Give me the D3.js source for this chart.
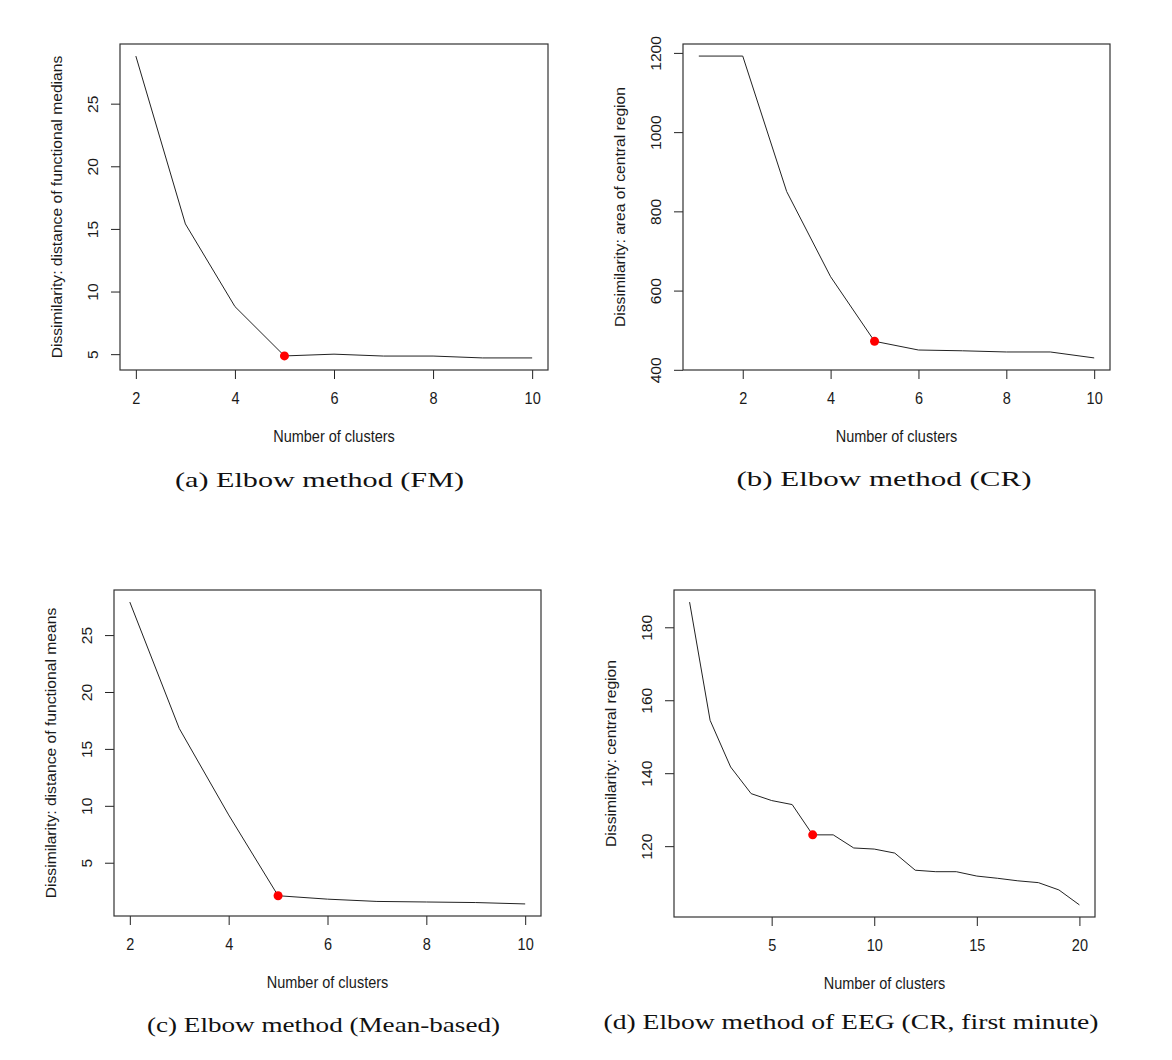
<!DOCTYPE html>
<html>
<head>
<meta charset="utf-8">
<script src="https://cdn.jsdelivr.net/npm/d3@7"></script>
<style>
  body { margin: 0; background: #fff; }
  .tick-label, .axis-title { font-family: "Liberation Sans", Arial, sans-serif; font-size: 14.5px; fill: #1a1a1a; }
  .caption { font-family: "Liberation Serif", "DejaVu Serif", serif; font-size: 22px; fill: #111; }
</style>
</head>
<body>
<svg width="1172" height="1060"></svg>
<script>
// values
const clustersA = [2, 3, 4, 5, 6, 7, 8, 9, 10];
const dissimA = [28.8, 15.4, 8.8, 4.86, 5.0, 4.85, 4.85, 4.7, 4.7];
const clustersB = [1, 2, 3, 4, 5, 6, 7, 8, 9, 10];
const dissimB = [1192, 1192, 850, 635, 472, 450, 448, 445, 445, 430];
const clustersC = [2, 3, 4, 5, 6, 7, 8, 9, 10];
const dissimC = [27.9, 16.8, 9.2, 2.1, 1.8, 1.6, 1.55, 1.5, 1.38];
const clustersD = d3.range(1, 21);
const dissimD = [186.9, 154.5, 141.7, 134.4, 132.5, 131.4, 123.1, 123.1, 119.5, 119.2,
                 118.1, 113.4, 113.0, 113.0, 111.8, 111.2, 110.5, 110.0, 108.0, 103.9];
const elbowK = [5, 5, 5, 7];

const xTicksA = [2, 4, 6, 8, 10], yTicksA = [5, 10, 15, 20, 25];
const xTicksB = [2, 4, 6, 8, 10], yTicksB = [400, 600, 800, 1000, 1200];
const xTicksC = [2, 4, 6, 8, 10], yTicksC = [5, 10, 15, 20, 25];
const xTicksD = [5, 10, 15, 20], yTicksD = [120, 140, 160, 180];

const yTitles = [
  "Dissimilarity: distance of functional medians",
  "Dissimilarity: area of central region",
  "Dissimilarity: distance of functional means",
  "Dissimilarity: central region"
];
const xTitle = "Number of clusters";
const captions = [
  "(a) Elbow method (FM)",
  "(b) Elbow method (CR)",
  "(c) Elbow method (Mean-based)",
  "(d) Elbow method of EEG (CR, first minute)"
];

// layout of the four panels (plot box + caption)
const layout = [
  { x: 120, y: 44,  w: 428, h: 326, cx: 319.5, cy: 487,  cw: 289 },
  { x: 683, y: 44,  w: 427, h: 326, cx: 884,   cy: 485.5, cw: 295 },
  { x: 114, y: 590, w: 427, h: 326, cx: 323.5, cy: 1032, cw: 353 },
  { x: 674, y: 590, w: 421, h: 327, cx: 851,   cy: 1029, cw: 495 }
];
// the R plots were stretched a bit vertically when placed on the page
const vStretch = 1.08;

const series = [
  { k: clustersA, v: dissimA, xt: xTicksA, yt: yTicksA },
  { k: clustersB, v: dissimB, xt: xTicksB, yt: yTicksB },
  { k: clustersC, v: dissimC, xt: xTicksC, yt: yTicksC },
  { k: clustersD, v: dissimD, xt: xTicksD, yt: yTicksD }
];

const svg = d3.select("svg");
svg.append("rect").attr("width", 1172).attr("height", 1060).attr("fill", "#fff");

// R style 4% padding on both ends
function padded(ext) {
  const p = (ext[1] - ext[0]) * 0.04;
  return [ext[0] - p, ext[1] + p];
}

series.forEach(function(s, i) {
  const L = layout[i];
  const g = svg.append("g").attr("transform", `translate(${L.x},${L.y})`);

  const x = d3.scaleLinear().domain(padded(d3.extent(s.k))).range([0, L.w]);
  const y = d3.scaleLinear().domain(padded(d3.extent(s.v))).range([L.h, 0]);

  // x axis, ticks pointing down from the box
  const xa = g.append("g").attr("transform", `translate(0,${L.h})`)
    .call(d3.axisBottom(x).tickValues(s.xt).tickSize(9).tickPadding(0).tickFormat(d3.format("d")));
  xa.select(".domain").remove();
  xa.selectAll("line").attr("stroke", "#222");
  xa.selectAll("text").attr("class", "tick-label").attr("font-size", null).attr("font-family", null)
    .attr("fill", null).attr("y", null).attr("dy", null)
    .attr("transform", `translate(0,34) scale(1,${vStretch})`);

  // y axis, labels turned like R's las=0
  const ya = g.append("g")
    .call(d3.axisLeft(y).tickValues(s.yt).tickSize(9).tickFormat(d3.format("d")));
  ya.select(".domain").remove();
  ya.selectAll("line").attr("stroke", "#222");
  ya.selectAll("text").attr("class", "tick-label").attr("font-size", null).attr("font-family", null)
    .attr("fill", null).attr("x", null).attr("dy", null)
    .attr("text-anchor", "middle")
    .attr("transform", `translate(-22,0) rotate(-90) scale(${vStretch},1)`);

  // plot box
  g.append("rect").attr("width", L.w).attr("height", L.h)
    .attr("fill", "none").attr("stroke", "#333").attr("stroke-width", 1.2);

  // the curve
  const pts = s.k.map((k, j) => [k, s.v[j]]);
  g.append("path").datum(pts)
    .attr("fill", "none").attr("stroke", "#222").attr("stroke-width", 1)
    .attr("d", d3.line().x(d => x(d[0])).y(d => y(d[1])));

  // elbow point
  const e = pts.find(d => d[0] === elbowK[i]);
  g.append("circle").attr("cx", x(e[0])).attr("cy", y(e[1])).attr("r", 4.5).attr("fill", "#f00");

  // titles
  g.append("text").attr("class", "axis-title").attr("text-anchor", "middle")
    .attr("transform", `translate(${L.w / 2},${L.h + 72}) scale(1,${vStretch})`).text(xTitle);
  g.append("text").attr("class", "axis-title").attr("text-anchor", "middle")
    .attr("transform", `translate(-58,${L.h / 2}) rotate(-90) scale(${vStretch},1)`).text(yTitles[i]);

  // caption under the panel
  svg.append("text").attr("class", "caption").attr("text-anchor", "middle")
    .attr("x", L.cx).attr("y", L.cy)
    .attr("textLength", L.cw).attr("lengthAdjust", "spacingAndGlyphs")
    .text(captions[i]);
});
</script>
</body>
</html>
